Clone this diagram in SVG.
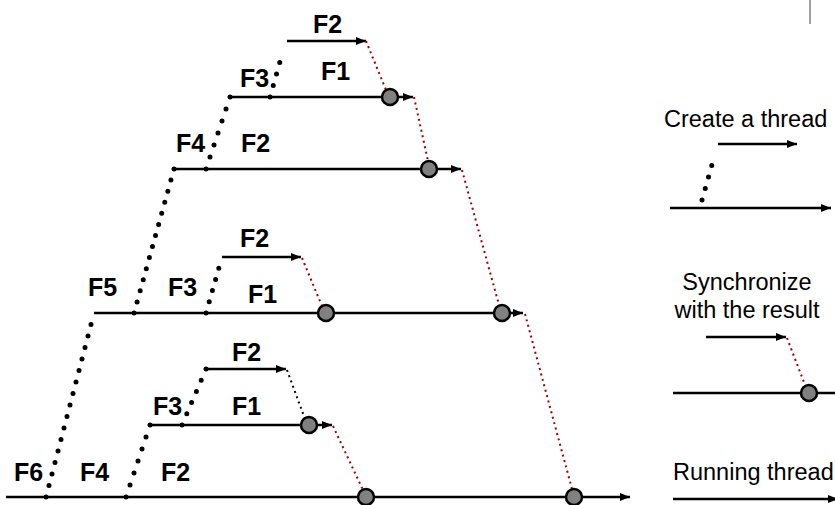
<svg xmlns="http://www.w3.org/2000/svg" width="835" height="505" viewBox="0 0 835 505">
<defs>
<marker id="ah" markerUnits="userSpaceOnUse" markerWidth="11" markerHeight="9" refX="10" refY="4.5" orient="auto"><path d="M0,0.5 L10,4.5 L0,8.5 z" fill="#000"/></marker>
<style>
.th{stroke:#000;stroke-width:2.5;fill:none}
.ar{marker-end:url(#ah)}
.fork{stroke:#000;stroke-width:5;stroke-linecap:round;stroke-dasharray:0 1;fill:none}
.join{stroke:#a00000;stroke-width:2;stroke-dasharray:2 3.6;fill:none}
.joinb{stroke:#000;stroke-width:2;stroke-dasharray:2 3.6;fill:none}
.sync{fill:#808080;stroke:#000;stroke-width:2.5}
.lb{font-family:"Liberation Sans",Arial,sans-serif;font-weight:bold;font-size:25px;fill:#000}
.lg{font-family:"Liberation Sans",Arial,sans-serif;font-size:23.5px;fill:#000}
</style>
</defs>
<line x1="810" y1="0" x2="810" y2="24" stroke="#808080" stroke-width="1.5"/>
<g id="threads">
<g id="t-bottom"><line class="th ar" x1="6" y1="497" x2="630" y2="497"/></g>
<g id="t-425"><line class="th ar" x1="150" y1="425" x2="332" y2="425"/></g>
<g id="t-369"><line class="th ar" x1="206" y1="369" x2="286" y2="369"/></g>
<g id="t-313"><line class="th ar" x1="94" y1="313" x2="523" y2="313"/></g>
<g id="t-257"><line class="th ar" x1="222" y1="257" x2="301" y2="257"/></g>
<g id="t-169"><line class="th ar" x1="174" y1="169" x2="461" y2="169"/></g>
<g id="t-97"><line class="th ar" x1="230" y1="97" x2="413" y2="97"/></g>
<g id="t-41"><line class="th ar" x1="287" y1="41" x2="366" y2="41"/></g>
</g>
<g id="connectors">
<path class="fork" pathLength="16" d="M46,497 L94,313"/>
<path class="fork" pathLength="6" d="M126,497 L150,425"/>
<path class="fork" pathLength="5" d="M182,425 L206,369"/>
<path class="fork" pathLength="13" d="M134,313 L174,169"/>
<path class="fork" pathLength="5" d="M206,313 L222,257"/>
<path class="fork" pathLength="6" d="M206,169 L230,97"/>
<path class="fork" pathLength="4" d="M270,97 L283,51"/>
<path class="join" d="M366,41 L386,90"/>
<path class="join" d="M414,97 L428,161"/>
<path class="join" d="M462,170 L499,305"/>
<path class="join" d="M525,314 L572,489"/>
<path class="join" d="M302,258 L322,306"/>
<path class="join" d="M333,426 L363,490"/>
<path class="joinb" d="M287,370 L305,419"/>
</g>
<g id="sync-nodes">
<circle id="s1" class="sync" cx="390" cy="97" r="8"/>
<circle id="s2" class="sync" cx="429" cy="169" r="8"/>
<circle id="s3" class="sync" cx="326" cy="313" r="8"/>
<circle id="s4" class="sync" cx="502" cy="313" r="8"/>
<circle id="s5" class="sync" cx="309" cy="425" r="8"/>
<circle id="s6" class="sync" cx="366" cy="497" r="8"/>
<circle id="s7" class="sync" cx="574" cy="497" r="8"/>
</g>
<g id="labels">
<text class="lb" x="14" y="481">F6</text>
<text class="lb" x="80" y="481">F4</text>
<text class="lb" x="161" y="481">F2</text>
<text class="lb" x="153" y="415">F3</text>
<text class="lb" x="232" y="415">F1</text>
<text class="lb" x="232" y="361">F2</text>
<text class="lb" x="88" y="296">F5</text>
<text class="lb" x="168" y="296">F3</text>
<text class="lb" x="248" y="303">F1</text>
<text class="lb" x="240" y="247">F2</text>
<text class="lb" x="176" y="152">F4</text>
<text class="lb" x="241" y="152">F2</text>
<text class="lb" x="240" y="87">F3</text>
<text class="lb" x="321" y="80">F1</text>
<text class="lb" x="313" y="33">F2</text>
</g>
<g id="legend-create">
<text class="lg" x="664" y="127">Create a thread</text>
<line class="th ar" x1="718" y1="144" x2="797" y2="144"/>
<path class="fork" pathLength="4" d="M702,200 L715,154"/>
<line class="th ar" x1="670" y1="208" x2="831" y2="208"/>
</g>
<g id="legend-sync">
<text class="lg" x="747" y="290" text-anchor="middle">Synchronize</text>
<text class="lg" x="747" y="318" text-anchor="middle">with the result</text>
<line class="th ar" x1="706" y1="337" x2="786" y2="337"/>
<path class="join" d="M787,338 L805,385"/>
<line class="th ar" x1="673" y1="393" x2="845" y2="393"/>
<circle class="sync" cx="809" cy="393" r="8"/>
</g>
<g id="legend-run">
<text class="lg" x="673" y="480">Running thread</text>
<line class="th ar" x1="673" y1="499" x2="838" y2="499"/>
</g>
</svg>
